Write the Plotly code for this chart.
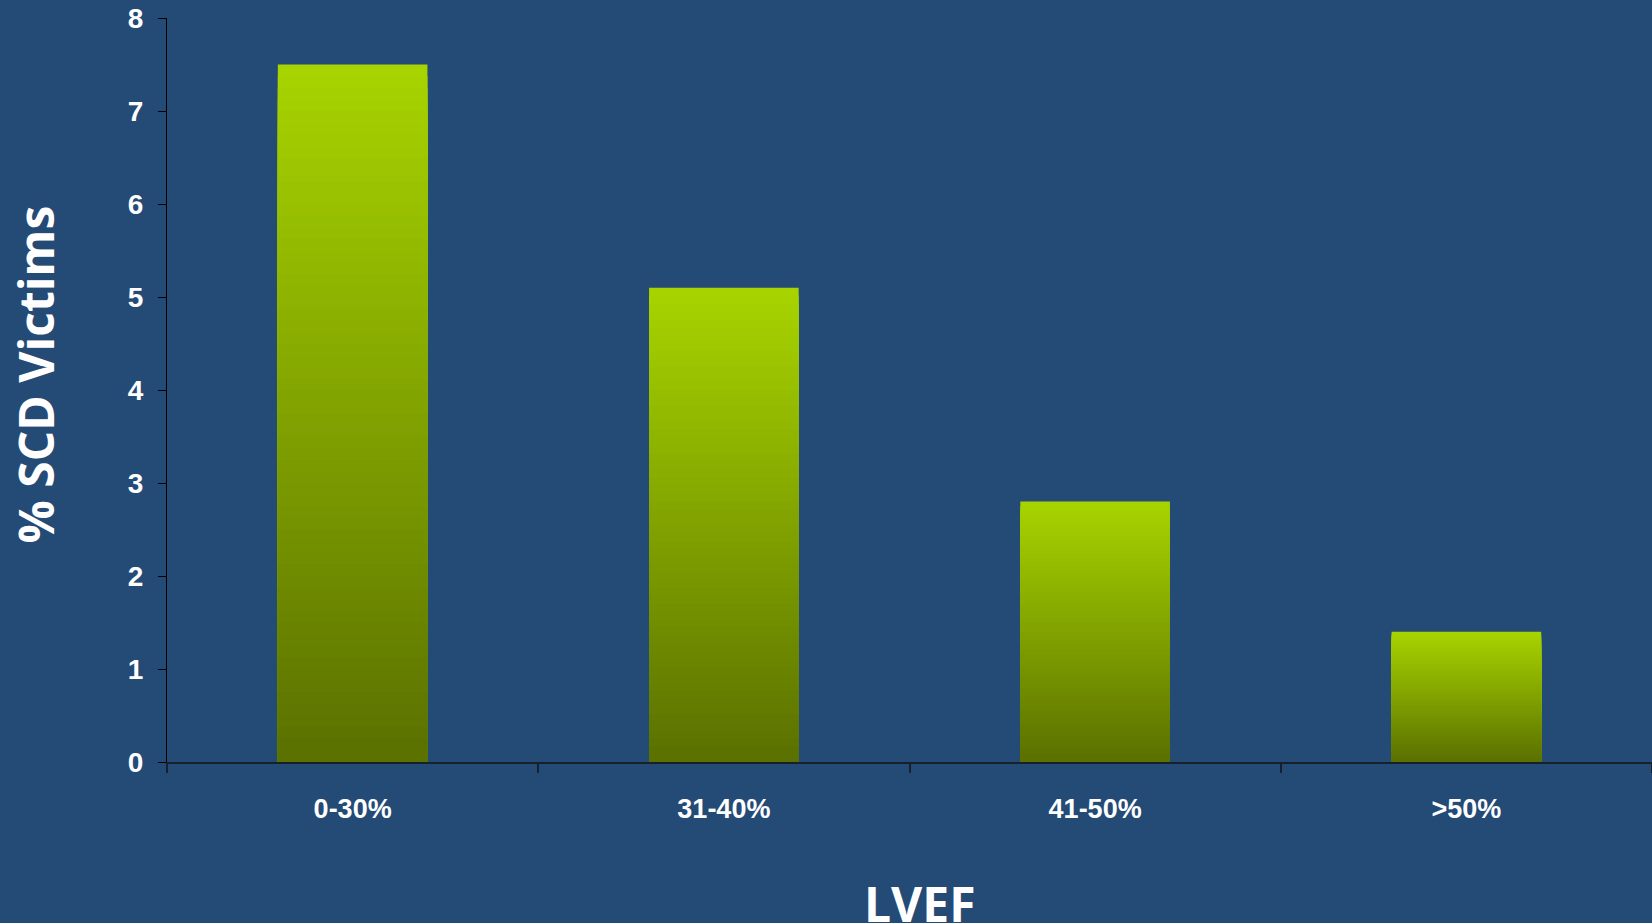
import plotly.graph_objects as go

categories = ["0-30%", "31-40%", "41-50%", ">50%"]
values = [7.5, 5.1, 2.8, 1.4]
y_ticks = [0, 1, 2, 3, 4, 5, 6, 7, 8]
x_title = "LVEF"
y_title = "% SCD Victims"

BG = "#244A76"
TOP = (168, 212, 0)
BOTTOM = (90, 112, 0)
N = 60

fig = go.Figure()
# gradient: overlay bars, tallest (brightest top) first, shorter darker ones on top
for k in range(N, 0, -1):
    t = (k - 0.5) / N
    c = tuple(round(BOTTOM[i] + (TOP[i] - BOTTOM[i]) * t) for i in range(3))
    col = "rgb(%d,%d,%d)" % c
    fig.add_trace(go.Bar(
        x=categories,
        y=[v * k / N for v in values],
        marker=dict(color=col, line=dict(width=0)),
        width=0.403,
        showlegend=False,
        hoverinfo="skip" if k != N else None,
    ))

title_font = dict(family="Open Sans", size=48, color="white", weight="bold")
fig.update_layout(
    width=1652, height=923,
    paper_bgcolor=BG, plot_bgcolor=BG,
    barmode="overlay",
    margin=dict(l=167, r=0, t=18, b=161),
    font=dict(family="Liberation Sans, Arial", color="white"),
    annotations=[
        dict(text=x_title, xref="paper", yref="paper", x=0.507, y=0,
             xanchor="center", yanchor="middle", yshift=-141,
             showarrow=False, font=title_font),
        dict(text=y_title, xref="paper", yref="paper", x=0, y=0.521,
             xanchor="center", yanchor="middle", xshift=-132, textangle=-90,
             showarrow=False, font=title_font),
    ],
)
fig.update_xaxes(
    type="category",
    range=[-0.5, 3.5],
    showline=True, linecolor="#18202c", linewidth=2,
    ticks="outside", tickson="boundaries", ticklen=9, tickcolor="#18202c", tickwidth=2,
    tickfont=dict(family="Liberation Sans, Arial", size=27, color="white", weight="bold"),
    ticklabelstandoff=22,
    showgrid=False, zeroline=False,
)
fig.update_yaxes(
    range=[0, 8], tickvals=y_ticks,
    showline=True, linecolor="black", linewidth=1,
    ticks="outside", ticklen=8, tickcolor="black", tickwidth=1,
    tickfont=dict(family="Liberation Sans, Arial", size=28, color="white", weight="bold"),
    ticklabelstandoff=9,
    showgrid=False, zeroline=False,
)

fig.write_html("out.html", config={"displayModeBar": False},
               post_script="document.body.style.margin='0px';document.body.style.overflow='hidden';")
